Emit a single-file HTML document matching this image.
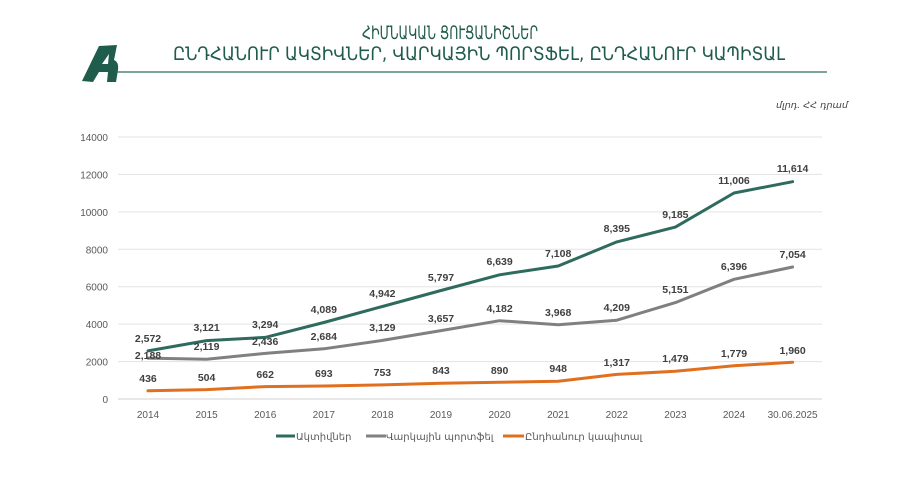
<!DOCTYPE html>
<html><head><meta charset="utf-8"><style>
html,body{margin:0;padding:0;background:#fff;}
svg{display:block;}
</style></head><body>
<svg width="900" height="492" viewBox="0 0 900 492" xmlns="http://www.w3.org/2000/svg" font-family="'Liberation Sans','DejaVu Sans',sans-serif">
<rect width="900" height="492" fill="#fff"/>
<!-- header -->
<path d="M82 81 L99 46 L117 45 L114 60 Q119 62 118 70 L116 82 L107 82 L108 72 L99 72 L93 82 Z M102 64 L108 64 L109 54 Z" fill="#1f5c4c"/>
<line x1="116" y1="72" x2="827" y2="72" stroke="#2e6b5e" stroke-width="1.2"/>
<text x="450" y="39" text-anchor="middle" font-family="'DejaVu Sans Condensed','DejaVu Sans',sans-serif" font-size="19" fill="#1f5c4c" textLength="176" lengthAdjust="spacingAndGlyphs">ՀԻՄՆԱԿԱՆ ՑՈՒՑԱՆԻՇՆԵՐ</text>
<text x="479" y="60" text-anchor="middle" font-family="'DejaVu Sans Condensed','DejaVu Sans',sans-serif" font-size="19" fill="#1f5c4c" textLength="612" lengthAdjust="spacingAndGlyphs">ԸՆԴՀԱՆՈՒՐ ԱԿՏԻՎՆԵՐ, ՎԱՐԿԱՅԻՆ ՊՈՐՏՖԵԼ, ԸՆԴՀԱՆՈՒՐ ԿԱՊԻՏԱԼ</text>
<text x="848" y="108" text-anchor="end" font-family="'DejaVu Sans Condensed','DejaVu Sans',sans-serif" font-size="9" font-style="italic" fill="#444" textLength="72" lengthAdjust="spacingAndGlyphs">մլրդ. ՀՀ դրամ</text>
<!-- grid -->
<g stroke="#e3e3e3" stroke-width="1">
<line x1="118" y1="137" x2="822" y2="137"/><line x1="118" y1="174.4" x2="822" y2="174.4"/>
<line x1="118" y1="211.9" x2="822" y2="211.9"/><line x1="118" y1="249.3" x2="822" y2="249.3"/>
<line x1="118" y1="286.7" x2="822" y2="286.7"/><line x1="118" y1="324.1" x2="822" y2="324.1"/>
<line x1="118" y1="361.6" x2="822" y2="361.6"/><line x1="118" y1="399" x2="822" y2="399" stroke="#d0d0d0"/>
</g>
<g font-size="10" fill="#595959" text-anchor="end">
<text x="108" y="141">14000</text><text x="108" y="178.4">12000</text><text x="108" y="215.9">10000</text>
<text x="108" y="253.3">8000</text><text x="108" y="290.7">6000</text><text x="108" y="328.1">4000</text>
<text x="108" y="365.6">2000</text><text x="108" y="403">0</text>
</g>
<g font-size="10" fill="#595959" text-anchor="middle">
<text x="148" y="418">2014</text><text x="206.6" y="418">2015</text><text x="265.2" y="418">2016</text>
<text x="323.8" y="418">2017</text><text x="382.4" y="418">2018</text><text x="441" y="418">2019</text>
<text x="499.6" y="418">2020</text><text x="558.2" y="418">2021</text><text x="616.8" y="418">2022</text>
<text x="675.4" y="418">2023</text><text x="734" y="418">2024</text><text x="792.6" y="418">30.06.2025</text>
</g>
<!-- series -->
<g fill="none" stroke-width="3" stroke-linejoin="round" stroke-linecap="round">
<polyline stroke="#e07020" points="148,390.8 206.6,389.6 265.2,386.6 323.8,386 382.4,384.9 441,383.2 499.6,382.3 558.2,381.3 616.8,374.4 675.4,371.3 734,365.7 792.6,362.3"/>
<polyline stroke="#808080" points="148,358.1 206.6,359.3 265.2,353.4 323.8,348.8 382.4,340.4 441,330.6 499.6,320.7 558.2,324.7 616.8,320.2 675.4,302.6 734,279.3 792.6,267"/>
<polyline stroke="#2e6b5e" points="148,350.9 206.6,340.6 265.2,337.4 323.8,322.5 382.4,306.5 441,290.5 499.6,274.8 558.2,266 616.8,241.9 675.4,227.1 734,193 792.6,181.7"/>
</g>
<g font-size="10.5" font-weight="bold" fill="#404040" text-anchor="middle">
<text x="148" y="342">2,572</text><text x="206.6" y="331">3,121</text><text x="265.2" y="328">3,294</text>
<text x="323.8" y="313">4,089</text><text x="382.4" y="297">4,942</text><text x="441" y="281">5,797</text>
<text x="499.6" y="265">6,639</text><text x="558.2" y="257">7,108</text><text x="616.8" y="232">8,395</text>
<text x="675.4" y="218">9,185</text><text x="734" y="184">11,006</text><text x="792.6" y="172">11,614</text>
<text x="148" y="359">2,188</text><text x="206.6" y="350">2,119</text><text x="265.2" y="345">2,436</text>
<text x="323.8" y="340">2,684</text><text x="382.4" y="331">3,129</text><text x="441" y="322">3,657</text>
<text x="499.6" y="312">4,182</text><text x="558.2" y="316">3,968</text><text x="616.8" y="311">4,209</text>
<text x="675.4" y="293">5,151</text><text x="734" y="270">6,396</text><text x="792.6" y="258">7,054</text>
<text x="148" y="382">436</text><text x="206.6" y="381">504</text><text x="265.2" y="378">662</text>
<text x="323.8" y="377">693</text><text x="382.4" y="376">753</text><text x="441" y="374">843</text>
<text x="499.6" y="374">890</text><text x="558.2" y="372">948</text><text x="616.8" y="366">1,317</text>
<text x="675.4" y="362">1,479</text><text x="734" y="357">1,779</text><text x="792.6" y="354">1,960</text>
</g>
<!-- legend -->
<g font-family="'DejaVu Sans','Liberation Sans',sans-serif" font-size="10" fill="#595959">
<line x1="276" y1="436" x2="295" y2="436" stroke="#2e6b5e" stroke-width="3"/>
<text x="296" y="440">Ակտիվներ</text>
<line x1="366" y1="436" x2="386" y2="436" stroke="#808080" stroke-width="3"/>
<text x="386" y="440">Վարկային պորտֆել</text>
<line x1="503" y1="436" x2="524" y2="436" stroke="#e07020" stroke-width="3"/>
<text x="525" y="440">Ընդհանուր կապիտալ</text>
</g>
</svg>
</body></html>
